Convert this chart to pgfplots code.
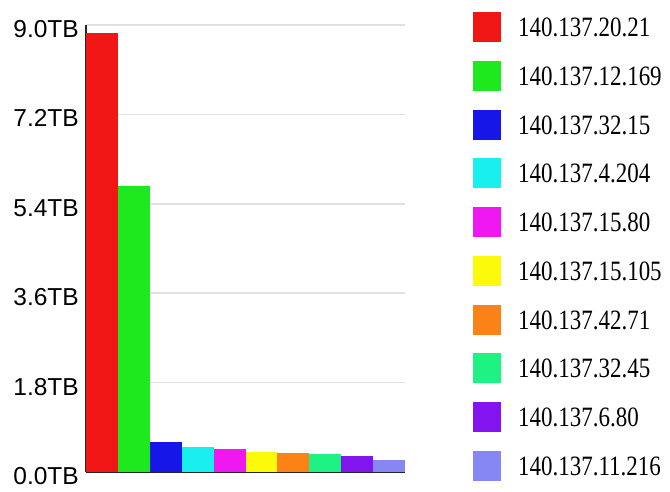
\documentclass[border=0pt]{standalone}
\usepackage{pgfplots}
\pgfplotsset{compat=1.18}
\usepackage{fontspec}
\setmainfont{Liberation Serif}
\newfontfamily\tickfont{Liberation Sans}
\newfontfamily\legfont[FakeStretch=0.82]{Liberation Serif}
\definecolor{c1}{RGB}{240,22,22}
\definecolor{c2}{RGB}{30,232,30}
\definecolor{c3}{RGB}{22,22,232}
\definecolor{c4}{RGB}{24,240,240}
\definecolor{c5}{RGB}{240,24,240}
\definecolor{c6}{RGB}{252,250,10}
\definecolor{c7}{RGB}{250,130,22}
\definecolor{c8}{RGB}{30,242,130}
\definecolor{c9}{RGB}{130,20,240}
\definecolor{c10}{RGB}{134,134,244}
\pgfplotsset{
  bb/.style={ybar, bar width=1, bar shift=0pt, draw=none, fill=#1,
    legend image code/.code={\fill[#1] (0pt,-15pt) rectangle (28pt,15pt); \path (45pt,0pt);}},
}
\begin{document}
\begin{tikzpicture}
\useasboundingbox (0pt,0pt) rectangle (670pt,491pt);
\begin{axis}[
  at={(86pt,19pt)}, anchor=south west,
  width=319pt, height=447pt, scale only axis,
  xmin=-0.5, xmax=9.5, ymin=0, ymax=9,
  axis lines*=left,
  axis line style={-, line width=2pt, black!85},
  ytick={0,1.8,3.6,5.4,7.2,9},
  yticklabels={0.0TB,1.8TB,3.6TB,5.4TB,7.2TB,9.0TB},
  yticklabel style={font=\tickfont\fontsize{24.5}{24.5}\selectfont, inner sep=0pt, xshift=-7pt, yshift=-4pt},
  xtick=\empty,
  major tick length=0pt,
  ymajorgrids, grid style={black!12, line width=1.5pt},
  legend style={draw=none, fill=none, at={(1.2132,1.0291)}, anchor=north west, inner sep=0pt, row sep=18.75pt,
    font=\legfont\fontsize{28}{28}\selectfont, nodes={inner sep=0pt, text depth=0pt}},
  legend cell align=left,
]
\addplot[bb=c1] coordinates {(0,8.83)};
\addplot[bb=c2] coordinates {(1,5.75)};
\addplot[bb=c3] coordinates {(2,0.61)};
\addplot[bb=c4] coordinates {(3,0.50)};
\addplot[bb=c5] coordinates {(4,0.46)};
\addplot[bb=c6] coordinates {(5,0.41)};
\addplot[bb=c7] coordinates {(6,0.39)};
\addplot[bb=c8] coordinates {(7,0.37)};
\addplot[bb=c9] coordinates {(8,0.32)};
\addplot[bb=c10] coordinates {(9,0.25)};
\legend{140.137.20.21,140.137.12.169,140.137.32.15,140.137.4.204,140.137.15.80,140.137.15.105,140.137.42.71,140.137.32.45,140.137.6.80,140.137.11.216}
\end{axis}
\end{tikzpicture}
\end{document}
